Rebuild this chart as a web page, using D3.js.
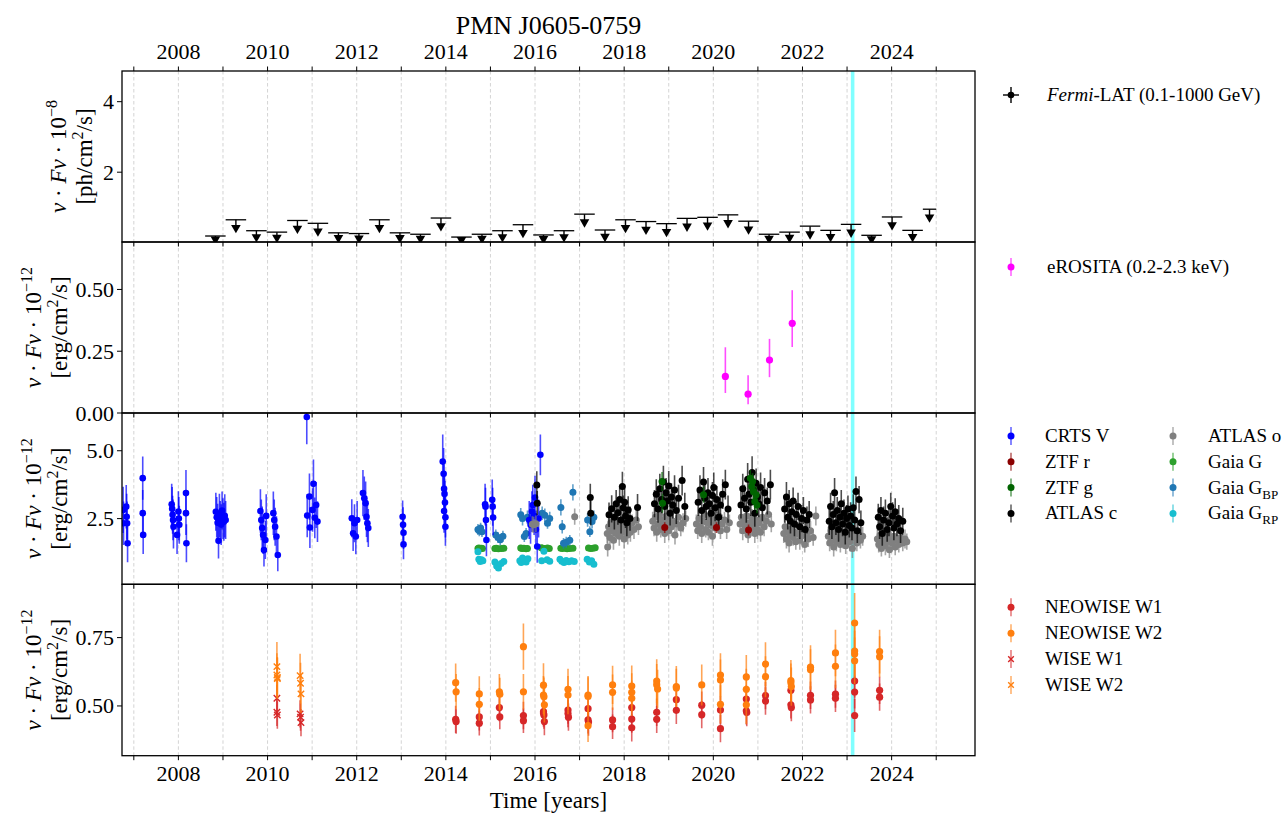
<!DOCTYPE html>
<html><head><meta charset="utf-8">
<script src="https://cdn.jsdelivr.net/npm/d3@7"></script>
<style>
body{margin:0;background:#fff}
svg{display:block}
text{font-family:"Liberation Serif","Times New Roman",serif;fill:#000}
</style>
</head><body><svg id="chart" width="1285" height="815"></svg>
<script>
// ---------------- DATA ----------------
const titleText = "PMN J0605-0759";
const xTickYears = [2007,2008,2009,2010,2011,2012,2013,2014,2015,2016,2017,2018,2019,2020,2021,2022,2023,2024,2025];
const xLabelYears = [2008,2010,2012,2014,2016,2018,2020,2022,2024];
const highlightEpochs = [2023.125];

const fermiYTicks = [2,4];
const erositaYTicks = [0,0.25,0.5];
const opticalYTicks = [2.5,5.0];
const irYTicks = [0.5,0.75];

// Fermi-LAT upper limits: bin edges (years) and UL values
const fermiBinEdges = [2008.60,2009.06,2009.52,2009.98,2010.44,2010.90,2011.36,2011.82,2012.28,2012.74,2013.20,2013.66,2014.12,2014.58,2015.04,2015.50,2015.96,2016.42,2016.88,2017.34,2017.80,2018.26,2018.72,2019.18,2019.64,2020.10,2020.56,2021.02,2021.48,2021.94,2022.40,2022.86,2023.32,2023.78,2024.24,2024.70,2025.00];
const fermiUL = [0.19,0.65,0.34,0.30,0.63,0.55,0.28,0.26,0.65,0.28,0.24,0.70,0.16,0.24,0.34,0.51,0.22,0.34,0.81,0.36,0.65,0.60,0.54,0.69,0.72,0.79,0.61,0.24,0.30,0.47,0.35,0.52,0.21,0.73,0.35,0.95];

// eROSITA
const erositaTime = [2020.27,2020.78,2021.26,2021.77];
const erositaFlux = [0.148,0.076,0.214,0.363];
const erositaErrLo = [0.067,0.041,0.069,0.096];
const erositaErrHi = [0.118,0.077,0.086,0.134];

// Optical [time, flux, err]
const crtsV = [
[2006.76,2.82,0.85],[2006.77,2.33,0.8],[2006.83,2.94,0.8],[2006.84,2.57,0.85],[2006.85,2.33,0.8],[2006.86,1.59,0.7],
[2007.20,3.99,0.8],[2007.20,2.70,0.85],[2007.21,1.90,0.7],
[2007.85,3.03,0.75],[2007.86,2.86,0.8],[2007.87,2.64,0.7],[2007.88,2.45,0.75],[2007.89,2.20,0.8],[2007.97,1.90,0.7],[2008.00,2.76,0.75],[2008.01,2.50,0.8],[2008.02,2.27,0.7],[2008.17,3.44,0.85],[2008.17,2.70,0.8],[2008.18,1.59,0.7],
[2008.84,2.75,0.7],[2008.86,2.55,0.75],[2008.88,2.35,0.7],[2008.90,1.68,0.65],[2008.92,2.62,0.8],[2008.94,2.45,0.7],[2008.96,2.28,0.75],[2008.98,2.80,0.7],[2009.00,2.50,0.75],[2009.02,2.38,0.7],[2009.04,2.60,0.8],[2009.06,2.45,0.7],
[2009.84,2.78,0.8],[2009.86,2.45,0.75],[2009.88,2.15,0.8],[2009.90,1.90,0.7],[2009.92,1.34,0.6],[2009.95,1.71,0.7],[2009.97,2.60,0.8],[2010.13,2.70,0.8],[2010.15,2.45,0.75],[2010.17,2.20,0.7],[2010.20,1.84,0.75],[2010.23,1.16,0.6],
[2010.88,6.24,1.0],[2010.89,2.61,0.8],[2010.94,3.31,0.85],[2010.95,2.17,0.75],[2011.01,2.82,0.8],[2011.03,3.78,0.9],[2011.06,2.53,0.75],[2011.09,3.00,0.85],[2011.12,2.39,0.75],
[2011.89,2.51,0.7],[2011.92,1.96,0.65],[2011.95,2.33,0.7],[2011.98,1.84,0.65],[2012.01,2.45,0.7],[2012.14,3.44,0.85],[2012.17,3.25,0.8],[2012.20,3.07,0.8],[2012.22,2.57,0.75],[2012.24,2.33,0.7],[2012.26,2.15,0.7],
[2013.03,2.57,0.6],[2013.04,2.27,0.65],[2013.05,1.98,0.6],[2013.05,1.55,0.55],
[2013.93,4.60,1.0],[2013.95,4.15,0.95],[2013.96,3.60,0.9],[2013.97,3.41,0.85],[2013.98,3.09,0.8],[2013.96,2.78,0.8],[2013.99,2.55,0.75],[2013.99,2.20,0.7],
[2014.88,3.03,0.75],[2014.89,2.94,0.7],[2014.90,2.45,0.65],[2014.91,1.71,0.6],[2015.04,3.19,0.75],[2015.05,2.94,0.7],[2015.06,2.54,0.65],
[2015.87,2.45,0.7],[2015.90,2.27,0.7],[2015.93,2.76,0.75],[2015.95,3.00,0.75],[2015.98,2.60,0.7],[2016.00,3.28,0.8],[2016.02,2.10,0.7],[2016.05,1.47,0.6],[2016.08,2.50,0.7],[2016.12,4.85,0.75]
];
const ztfR = [[2018.91,2.17,0.2],[2020.07,2.17,0.2],[2020.79,2.08,0.2]];
const ztfG = [[2018.85,3.87,0.35],[2018.86,3.07,0.35],[2019.78,3.38,0.3],[2020.83,3.99,0.3],[2020.86,3.68,0.3],[2020.88,3.87,0.3],[2020.90,3.50,0.3],[2020.93,3.13,0.3],[2020.96,3.38,0.3],[2020.98,3.00,0.3]];
const atlasC = [
[2016.04,3.74,0.5],[2016.05,3.07,0.45],[2017.24,3.28,0.5],[2017.25,2.70,0.45],
[2017.66,2.64,0.45],[2017.72,2.86,0.5],[2017.78,2.55,0.45],[2017.82,3.05,0.5],[2017.86,2.72,0.45],[2017.90,3.20,0.5],[2017.93,2.45,0.5],[2017.96,3.68,0.55],[2017.98,2.90,0.45],[2018.01,3.10,0.5],[2018.03,2.60,0.45],[2018.06,2.35,0.5],[2018.09,2.82,0.5],[2018.13,2.50,0.45],[2018.30,2.91,0.5],
[2018.68,3.05,0.5],[2018.72,3.40,0.55],[2018.76,2.85,0.5],[2018.80,3.60,0.55],[2018.84,3.20,0.5],[2018.88,3.85,0.6],[2018.91,2.95,0.5],[2018.94,3.45,0.55],[2018.97,3.15,0.5],[2019.00,3.70,0.55],[2019.03,2.70,0.45],[2019.06,3.30,0.5],[2019.09,3.00,0.5],[2019.13,3.55,0.55],[2019.17,2.80,0.5],[2019.22,3.25,0.5],[2019.30,3.90,0.55],[2019.36,2.95,0.5],
[2019.66,3.10,0.5],[2019.70,3.55,0.55],[2019.74,2.80,0.5],[2019.78,3.85,0.55],[2019.81,3.25,0.5],[2019.84,2.95,0.5],[2019.88,3.45,0.55],[2019.91,3.05,0.5],[2019.95,2.70,0.45],[2019.98,3.35,0.5],[2020.01,3.65,0.55],[2020.04,2.90,0.5],[2020.08,3.20,0.5],[2020.12,2.55,0.45],[2020.16,3.00,0.5],[2020.21,3.40,0.55],[2020.27,3.75,0.55],[2020.33,2.85,0.5],
[2020.62,3.00,0.5],[2020.66,3.60,0.55],[2020.70,3.25,0.5],[2020.74,2.85,0.5],[2020.77,3.95,0.6],[2020.80,3.40,0.55],[2020.84,3.10,0.5],[2020.87,4.20,0.6],[2020.90,3.55,0.55],[2020.93,2.70,0.5],[2020.96,3.80,0.55],[2020.99,3.30,0.5],[2021.02,3.05,0.5],[2021.06,3.65,0.55],[2021.10,2.90,0.5],[2021.15,3.45,0.55],[2021.21,3.15,0.5],[2021.28,3.75,0.55],
[2021.60,2.85,0.5],[2021.64,3.30,0.55],[2021.67,2.55,0.45],[2021.70,3.05,0.5],[2021.73,2.40,0.45],[2021.76,2.75,0.5],[2021.79,3.15,0.5],[2021.82,2.30,0.45],[2021.86,2.65,0.5],[2021.90,2.95,0.5],[2021.94,2.20,0.45],[2021.98,2.50,0.5],[2022.02,2.80,0.5],[2022.06,2.10,0.45],[2022.10,2.45,0.5],[2022.15,2.65,0.5],
[2022.60,2.40,0.5],[2022.63,2.95,0.5],[2022.66,2.20,0.45],[2022.69,2.65,0.5],[2022.72,3.45,0.55],[2022.75,2.35,0.45],[2022.78,2.80,0.5],[2022.81,2.10,0.45],[2022.84,2.55,0.5],[2022.87,3.05,0.5],[2022.90,2.30,0.45],[2022.93,2.70,0.5],[2022.96,2.00,0.45],[2022.99,2.50,0.5],[2023.02,2.85,0.5],[2023.05,2.25,0.45],[2023.08,2.60,0.5],[2023.11,2.15,0.45],[2023.14,2.90,0.5],[2023.17,2.45,0.5],[2023.20,3.50,0.55],[2023.23,2.05,0.45],[2023.27,3.20,0.5],[2023.31,2.35,0.45],
[2023.70,2.55,0.5],[2023.73,2.20,0.45],[2023.76,2.80,0.5],[2023.79,1.95,0.45],[2023.82,2.45,0.5],[2023.86,2.70,0.5],[2023.90,2.10,0.45],[2023.94,2.35,0.5],[2023.98,2.95,0.5],[2024.02,2.60,0.5],[2024.05,2.15,0.45],[2024.08,2.75,0.5],[2024.12,2.30,0.45],[2024.16,2.50,0.5],[2024.20,2.05,0.45],[2024.25,2.40,0.5]
];
const atlasO = [
[2015.94,2.29,0.3],[2015.97,2.27,0.3],[2016.02,2.31,0.3],[2016.89,2.57,0.3],
[2017.62,1.95,0.35],[2017.63,1.45,0.35],[2017.65,2.20,0.35],[2017.68,1.80,0.3],[2017.70,2.35,0.35],[2017.73,2.05,0.3],[2017.76,1.70,0.35],[2017.79,2.25,0.3],[2017.81,1.95,0.35],[2017.84,2.45,0.35],[2017.87,2.10,0.3],[2017.89,1.85,0.35],[2017.92,2.30,0.3],[2017.95,2.00,0.35],[2017.97,2.15,0.3],[2018.00,1.75,0.35],[2018.02,2.40,0.35],[2018.05,2.05,0.3],[2018.08,1.90,0.35],[2018.10,2.25,0.3],[2018.14,2.00,0.35],[2018.18,2.35,0.3],[2018.22,2.10,0.35],[2018.27,2.45,0.35],[2018.32,2.20,0.3],
[2018.64,2.40,0.35],[2018.67,2.15,0.3],[2018.70,2.55,0.35],[2018.73,2.00,0.35],[2018.76,2.30,0.3],[2018.79,2.65,0.35],[2018.82,2.10,0.3],[2018.85,2.45,0.35],[2018.88,2.25,0.3],[2018.91,1.95,0.35],[2018.94,2.60,0.35],[2018.97,2.35,0.3],[2019.00,2.05,0.35],[2019.03,2.50,0.3],[2019.06,2.20,0.35],[2019.10,2.40,0.3],[2019.14,1.90,0.35],[2019.18,2.30,0.3],[2019.22,2.55,0.35],[2019.27,2.15,0.3],[2019.32,2.35,0.35],[2019.38,2.50,0.3],
[2019.62,2.30,0.35],[2019.65,2.05,0.3],[2019.68,2.50,0.35],[2019.71,2.20,0.3],[2019.74,1.95,0.35],[2019.77,2.40,0.3],[2019.80,2.65,0.35],[2019.83,2.10,0.3],[2019.86,2.35,0.35],[2019.89,2.00,0.3],[2019.92,2.55,0.35],[2019.95,2.25,0.3],[2019.98,1.85,0.35],[2020.01,2.45,0.3],[2020.04,2.15,0.35],[2020.08,2.35,0.3],[2020.12,2.60,0.35],[2020.16,2.05,0.3],[2020.20,2.30,0.35],[2020.25,2.45,0.3],[2020.30,2.10,0.35],[2020.36,2.35,0.3],
[2020.60,2.30,0.35],[2020.63,2.55,0.3],[2020.66,2.05,0.35],[2020.69,2.40,0.3],[2020.72,2.20,0.35],[2020.75,2.60,0.35],[2020.78,1.90,0.3],[2020.81,2.35,0.35],[2020.84,2.15,0.3],[2020.87,2.50,0.35],[2020.90,2.25,0.3],[2020.93,1.95,0.35],[2020.96,2.45,0.3],[2020.99,2.10,0.35],[2021.02,2.35,0.3],[2021.06,2.00,0.35],[2021.10,2.55,0.3],[2021.14,2.20,0.35],[2021.19,2.40,0.3],[2021.24,2.65,0.35],[2021.30,2.30,0.3],
[2021.58,1.95,0.35],[2021.61,2.20,0.3],[2021.64,1.75,0.35],[2021.67,2.05,0.3],[2021.70,1.60,0.35],[2021.73,1.90,0.3],[2021.76,2.15,0.35],[2021.79,1.80,0.3],[2021.82,2.00,0.35],[2021.85,1.65,0.3],[2021.88,1.95,0.35],[2021.91,2.25,0.3],[2021.94,1.70,0.35],[2021.97,1.85,0.3],[2022.01,2.10,0.35],[2022.05,1.55,0.3],[2022.09,1.90,0.35],[2022.13,1.75,0.3],[2022.18,2.05,0.35],[2022.24,1.80,0.3],[2022.30,2.60,0.35],
[2022.58,1.85,0.35],[2022.61,1.60,0.3],[2022.64,2.05,0.35],[2022.67,1.75,0.3],[2022.70,1.45,0.35],[2022.73,1.95,0.3],[2022.76,1.65,0.35],[2022.79,2.10,0.3],[2022.82,1.80,0.35],[2022.85,1.55,0.3],[2022.88,2.00,0.35],[2022.91,1.70,0.3],[2022.94,1.90,0.35],[2022.97,1.50,0.3],[2023.00,1.85,0.35],[2023.03,2.15,0.3],[2023.06,1.65,0.35],[2023.09,1.95,0.3],[2023.12,1.40,0.35],[2023.15,1.80,0.3],[2023.18,2.00,0.35],[2023.22,1.60,0.3],[2023.26,1.90,0.35],[2023.30,1.70,0.3],[2023.35,1.85,0.35],
[2023.68,1.75,0.35],[2023.71,1.55,0.3],[2023.74,1.90,0.35],[2023.77,1.40,0.3],[2023.80,1.70,0.35],[2023.83,1.85,0.3],[2023.86,1.50,0.35],[2023.89,1.65,0.3],[2023.92,1.95,0.35],[2023.95,1.35,0.3],[2023.98,1.75,0.35],[2024.01,1.60,0.3],[2024.05,1.85,0.35],[2024.08,1.45,0.3],[2024.12,1.70,0.35],[2024.16,1.55,0.3],[2024.20,1.80,0.35],[2024.25,1.60,0.3],[2024.30,1.75,0.35],[2024.34,1.65,0.3]
];
const gaiaG = [
[2014.72,1.40,0.05],[2014.74,1.42,0.05],[2014.77,1.39,0.05],[2014.80,1.41,0.05],[2014.82,1.40,0.05],
[2015.10,1.40,0.05],[2015.13,1.41,0.05],[2015.18,1.39,0.05],[2015.25,1.40,0.05],[2015.30,1.41,0.05],
[2015.68,1.42,0.05],[2015.71,1.40,0.05],[2015.75,1.41,0.05],[2015.80,1.39,0.05],[2015.83,1.40,0.05],
[2016.14,1.43,0.05],[2016.17,1.41,0.05],[2016.22,1.40,0.05],[2016.28,1.42,0.05],[2016.32,1.40,0.05],
[2016.58,1.41,0.05],[2016.62,1.40,0.05],[2016.68,1.42,0.05],[2016.72,1.39,0.05],[2016.78,1.40,0.05],[2016.85,1.41,0.05],
[2017.20,1.42,0.05],[2017.25,1.40,0.05],[2017.30,1.41,0.05],[2017.35,1.43,0.05]
];
const gaiaBP = [
[2014.72,2.10,0.2],[2014.75,2.05,0.2],[2014.78,2.15,0.2],[2014.81,2.02,0.2],
[2015.12,1.90,0.2],[2015.17,1.80,0.2],[2015.22,1.72,0.2],[2015.28,1.85,0.2],
[2015.68,2.64,0.25],[2015.72,2.50,0.25],[2015.76,1.84,0.2],[2015.80,1.95,0.2],[2015.83,2.55,0.25],
[2016.16,2.70,0.25],[2016.22,2.62,0.25],[2016.28,2.33,0.2],[2016.33,2.50,0.25],
[2016.58,2.91,0.3],[2016.61,2.20,0.25],[2016.64,1.59,0.2],[2016.70,1.63,0.2],[2016.78,1.70,0.2],[2016.85,3.47,0.3],
[2017.18,2.45,0.25],[2017.23,2.02,0.2],[2017.28,2.39,0.25],[2017.32,2.55,0.25]
];
const gaiaRP = [
[2014.72,1.28,0.06],[2014.74,1.00,0.06],[2014.77,0.92,0.06],[2014.80,0.98,0.06],[2014.83,0.95,0.06],
[2015.10,0.90,0.06],[2015.14,0.75,0.06],[2015.18,0.68,0.06],[2015.24,0.85,0.06],[2015.30,0.92,0.06],
[2015.66,0.95,0.06],[2015.69,0.88,0.06],[2015.72,1.05,0.06],[2015.76,0.98,0.06],[2015.80,0.90,0.06],[2015.84,1.02,0.06],
[2016.15,0.95,0.06],[2016.20,1.30,0.06],[2016.27,0.98,0.06],[2016.33,0.93,0.06],
[2016.56,1.00,0.06],[2016.60,0.93,0.06],[2016.65,0.88,0.06],[2016.70,0.96,0.06],[2016.76,0.91,0.06],[2016.82,0.95,0.06],[2016.88,0.92,0.06],
[2017.17,1.00,0.06],[2017.22,0.90,0.06],[2017.27,0.95,0.06],[2017.32,0.82,0.06]
];

// Infrared [time, flux, err]
const neowiseW1 = [
[2014.22,0.451,0.05],[2014.23,0.443,0.045],[2014.75,0.460,0.05],[2014.75,0.437,0.045],[2015.20,0.494,0.05],[2015.21,0.460,0.045],
[2015.74,0.465,0.05],[2015.74,0.446,0.045],[2016.19,0.479,0.05],[2016.20,0.467,0.05],[2016.21,0.443,0.05],[2016.19,0.474,0.05],
[2016.74,0.485,0.05],[2016.74,0.472,0.05],[2016.75,0.459,0.05],[2017.19,0.490,0.05],[2017.19,0.449,0.05],[2017.20,0.441,0.05],
[2017.74,0.449,0.045],[2017.74,0.424,0.045],[2018.17,0.494,0.05],[2018.17,0.452,0.05],[2018.17,0.420,0.05],
[2018.73,0.477,0.05],[2018.73,0.451,0.05],[2019.17,0.523,0.05],[2019.17,0.484,0.05],[2019.74,0.503,0.05],[2019.74,0.468,0.05],
[2020.16,0.485,0.05],[2020.16,0.417,0.05],[2020.74,0.525,0.05],[2020.74,0.482,0.05],[2020.75,0.476,0.05],
[2021.17,0.538,0.05],[2021.17,0.518,0.05],[2021.74,0.557,0.05],[2021.74,0.504,0.05],[2021.75,0.494,0.05],
[2022.18,0.539,0.05],[2022.18,0.522,0.05],[2022.74,0.543,0.05],[2022.74,0.528,0.05],
[2023.17,0.591,0.06],[2023.17,0.551,0.06],[2023.17,0.465,0.06],[2023.73,0.557,0.05],[2023.73,0.532,0.05]
];
const neowiseW2 = [
[2014.22,0.585,0.07],[2014.23,0.552,0.065],[2014.75,0.544,0.065],[2014.75,0.506,0.06],[2015.20,0.552,0.065],[2015.21,0.543,0.06],
[2015.74,0.717,0.085],[2015.74,0.552,0.065],[2016.19,0.576,0.08],[2016.19,0.540,0.07],[2016.20,0.534,0.07],[2016.21,0.504,0.065],
[2016.74,0.561,0.075],[2016.74,0.540,0.07],[2017.19,0.540,0.07],[2017.19,0.535,0.07],[2017.19,0.428,0.06],
[2017.74,0.577,0.07],[2017.74,0.550,0.065],[2018.17,0.573,0.075],[2018.17,0.550,0.07],[2018.17,0.528,0.065],
[2018.73,0.591,0.08],[2018.73,0.578,0.075],[2018.75,0.562,0.07],[2019.17,0.571,0.075],[2019.17,0.566,0.07],
[2019.74,0.577,0.075],[2020.16,0.613,0.08],[2020.16,0.595,0.075],[2020.16,0.506,0.07],
[2020.74,0.606,0.08],[2020.74,0.561,0.075],[2020.74,0.504,0.07],[2021.17,0.653,0.08],[2021.17,0.607,0.075],
[2021.74,0.593,0.075],[2021.74,0.585,0.07],[2021.75,0.571,0.07],[2022.18,0.642,0.08],[2022.18,0.632,0.075],
[2022.74,0.694,0.085],[2022.74,0.645,0.08],[2023.17,0.803,0.11],[2023.17,0.701,0.09],[2023.17,0.690,0.085],[2023.17,0.665,0.085],
[2023.73,0.699,0.08],[2023.73,0.680,0.075]
];
const wiseW1 = [[2010.21,0.528,0.05],[2010.21,0.477,0.05],[2010.22,0.467,0.05],[2010.73,0.471,0.05],[2010.74,0.459,0.05],[2010.75,0.439,0.05]];
const wiseW2 = [[2010.21,0.644,0.09],[2010.21,0.613,0.08],[2010.22,0.604,0.075],[2010.22,0.600,0.075],[2010.73,0.611,0.08],[2010.74,0.583,0.075],[2010.75,0.544,0.07]];

// ---------------- DRAWING ----------------
const svg = d3.select("#chart");
const x = d3.scaleLinear().domain([2006.735, 2025.87]).range([122, 975]);
const xL = 122, xR = 975;

const panels = [
  {top:71, bottom:242, domain:[0.02,4.87], ticks:fermiYTicks, fmt:d=>String(d), exp:"−8", unit:"ph", lx:66},
  {top:242, bottom:413, domain:[0,0.692], ticks:erositaYTicks, fmt:d3.format(".2f"), exp:"−12", unit:"erg", lx:41},
  {top:413, bottom:584.3, domain:[0.08,6.39], ticks:opticalYTicks, fmt:d3.format(".1f"), exp:"−12", unit:"erg", lx:41},
  {top:584.3, bottom:755.7, domain:[0.318,0.945], ticks:irYTicks, fmt:d3.format(".2f"), exp:"−12", unit:"erg", lx:41}
];
panels.forEach((p,i)=>{ p.y = d3.scaleLinear().domain(p.domain).range([p.bottom,p.top]); });

const defs = svg.append("defs");
panels.forEach((p,i)=>{
  defs.append("clipPath").attr("id","clip"+i).append("rect")
    .attr("x",xL).attr("y",p.top).attr("width",xR-xL).attr("height",p.bottom-p.top);
});

// grid + highlight
panels.forEach((p,i)=>{
  const g = svg.append("g").attr("clip-path",`url(#clip${i})`);
  g.selectAll("line.grid").data(xTickYears).join("line")
    .attr("x1",d=>x(d)).attr("x2",d=>x(d)).attr("y1",p.top).attr("y2",p.bottom)
    .attr("stroke","#cfcfcf").attr("stroke-width",0.9).attr("stroke-dasharray","3.5,2.5");
  g.selectAll("rect.hl").data(highlightEpochs).join("rect")
    .attr("x",d=>x(d-0.04)).attr("width",d=>x(d+0.04)-x(d-0.04))
    .attr("y",p.top).attr("height",p.bottom-p.top).attr("fill","#80ffff");
  p.g = g;
});

function errPoints(p, data, color, opt={}){
  const r = opt.r || 3.5, op = opt.eop==null?0.7:opt.eop;
  const g = p.g.append("g");
  g.selectAll("line").data(data).join("line")
    .attr("x1",d=>x(d[0])).attr("x2",d=>x(d[0]))
    .attr("y1",d=>p.y(d[1]-d[2])).attr("y2",d=>p.y(d[1]+d[2]))
    .attr("stroke",color).attr("stroke-width",opt.ew||1.6).attr("stroke-opacity",op);
  if(opt.marker==="x"){
    const s=3.2;
    g.selectAll("path").data(data).join("path")
      .attr("d",d=>{const cx=x(d[0]),cy=p.y(d[1]);return `M${cx-s},${cy-s}L${cx+s},${cy+s}M${cx-s},${cy+s}L${cx+s},${cy-s}`;})
      .attr("stroke",color).attr("stroke-width",1.4).attr("fill","none");
  } else {
    g.selectAll("circle").data(data).join("circle")
      .attr("cx",d=>x(d[0])).attr("cy",d=>p.y(d[1])).attr("r",r).attr("fill",color);
  }
}

// Panel 1: Fermi ULs
{
  const p = panels[0];
  const bins = fermiUL.map((v,i)=>({lo:fermiBinEdges[i], hi:fermiBinEdges[i+1], v}));
  const g = p.g.append("g");
  const tri = d3.symbol().type(d3.symbolTriangle).size(40);
  bins.forEach(b=>{
    const cx = x((b.lo+b.hi)/2), cy = p.y(b.v);
    const off = Math.min(8, 0.55*(p.bottom-cy));
    g.append("line").attr("x1",x(b.lo)).attr("x2",x(b.hi)).attr("y1",cy).attr("y2",cy)
      .attr("stroke","#000").attr("stroke-width",1.3);
    g.append("line").attr("x1",cx).attr("x2",cx).attr("y1",cy).attr("y2",cy+off)
      .attr("stroke","#000").attr("stroke-width",1.4);
    g.append("path").attr("d",tri).attr("transform",`translate(${cx},${cy+off}) rotate(180)`).attr("fill","#000");
  });
}

// Panel 2: eROSITA
{
  const p = panels[1];
  const data = erositaTime.map((t,i)=>({t, v:erositaFlux[i], lo:erositaErrLo[i], hi:erositaErrHi[i]}));
  const g = p.g.append("g");
  g.selectAll("line").data(data).join("line")
    .attr("x1",d=>x(d.t)).attr("x2",d=>x(d.t))
    .attr("y1",d=>p.y(d.v-d.lo)).attr("y2",d=>p.y(d.v+d.hi))
    .attr("stroke","#ff00ff").attr("stroke-width",1.6).attr("stroke-opacity",0.7);
  g.selectAll("circle").data(data).join("circle")
    .attr("cx",d=>x(d.t)).attr("cy",d=>p.y(d.v)).attr("r",3.6).attr("fill","#ff00ff");
}

// Panel 3: optical
const optSeries = [
  {name:"Gaia G", data:gaiaG, color:"#2ca02c"},
  {name:"Gaia GBP", data:gaiaBP, color:"#1f77b4"},
  {name:"Gaia GRP", data:gaiaRP, color:"#17becf"},
  {name:"CRTS V", data:crtsV, color:"#0000ff", r:3.3},
  {name:"ATLAS o", data:atlasO, color:"#808080"},
  {name:"ATLAS c", data:atlasC, color:"#000000"},
  {name:"ZTF r", data:ztfR, color:"#8b0000"},
  {name:"ZTF g", data:ztfG, color:"#006400"}
];
optSeries.forEach(s=>errPoints(panels[2], s.data, s.color, {r:s.r||3.5}));

// Panel 4: IR
errPoints(panels[3], wiseW1, "#d62728", {marker:"x"});
errPoints(panels[3], wiseW2, "#ff7f0e", {marker:"x"});
errPoints(panels[3], neowiseW1, "#d62728", {r:3.6});
errPoints(panels[3], neowiseW2, "#ff7f0e", {r:3.6});

// frames, ticks, tick labels
panels.forEach((p,i)=>{
  svg.append("rect").attr("x",xL).attr("y",p.top).attr("width",xR-xL).attr("height",p.bottom-p.top)
    .attr("fill","none").attr("stroke","#000").attr("stroke-width",1.3);
  svg.append("g").selectAll("line").data(xTickYears).join("line")
    .attr("x1",d=>x(d)).attr("x2",d=>x(d)).attr("y1",p.bottom).attr("y2",p.bottom+4.5)
    .attr("stroke","#000").attr("stroke-width",1);
  const gy = svg.append("g");
  gy.selectAll("line").data(p.ticks).join("line")
    .attr("x1",xL-5).attr("x2",xL).attr("y1",d=>p.y(d)).attr("y2",d=>p.y(d))
    .attr("stroke","#000").attr("stroke-width",1);
  gy.selectAll("text").data(p.ticks).join("text")
    .attr("x",xL-8).attr("y",d=>p.y(d)+7.5).attr("text-anchor","end")
    .attr("font-size",22).text(d=>p.fmt(d));
  const cy = (p.top+p.bottom)/2;
  const lab = svg.append("g").attr("transform",`translate(${p.lx},${cy}) rotate(-90)`);
  const t1 = lab.append("text").attr("x",0).attr("y",0).attr("text-anchor","middle").attr("font-size",23);
  t1.append("tspan").attr("font-style","italic").text("ν");
  t1.append("tspan").text(" · ");
  t1.append("tspan").attr("font-style","italic").text("Fν");
  t1.append("tspan").text(" · 10");
  t1.append("tspan").attr("dy",-9).attr("font-size",16).text(p.exp);
  const t2 = lab.append("text").attr("x",0).attr("y",26).attr("text-anchor","middle").attr("font-size",23);
  t2.append("tspan").text(`[${p.unit}/cm`);
  t2.append("tspan").attr("dy",-9).attr("font-size",16).text("2");
  t2.append("tspan").attr("dy",9).text("/s]");
});

// top axis
svg.append("g").selectAll("line").data(xTickYears).join("line")
  .attr("x1",d=>x(d)).attr("x2",d=>x(d)).attr("y1",panels[0].top-4.5).attr("y2",panels[0].top)
  .attr("stroke","#000").attr("stroke-width",1);
svg.append("g").selectAll("text").data(xLabelYears).join("text")
  .attr("x",d=>x(d)).attr("y",59).attr("text-anchor","middle").attr("font-size",22).text(d=>d);
svg.append("g").selectAll("text").data(xLabelYears).join("text")
  .attr("x",d=>x(d)).attr("y",781).attr("text-anchor","middle").attr("font-size",22).text(d=>d);
svg.append("text").attr("x",(xL+xR)/2).attr("y",808).attr("text-anchor","middle").attr("font-size",23).text("Time [years]");
svg.append("text").attr("x",(xL+xR)/2).attr("y",34).attr("text-anchor","middle").attr("font-size",26).text(titleText);

// legends
function legMarker(g, cx, cy, color, kind){
  if(kind==="fermi"){
    g.append("line").attr("x1",cx-8).attr("x2",cx+8).attr("y1",cy).attr("y2",cy).attr("stroke","#000").attr("stroke-width",1.4);
    g.append("line").attr("x1",cx).attr("x2",cx).attr("y1",cy-8).attr("y2",cy+8).attr("stroke","#000").attr("stroke-width",1.4);
    g.append("circle").attr("cx",cx).attr("cy",cy).attr("r",3.3).attr("fill","#000");
    return;
  }
  g.append("line").attr("x1",cx).attr("x2",cx).attr("y1",cy-9).attr("y2",cy+9)
    .attr("stroke",color).attr("stroke-width",1.6).attr("stroke-opacity",0.6);
  if(kind==="x"){
    const s=2.8;
    g.append("path").attr("d",`M${cx-s},${cy-s}L${cx+s},${cy+s}M${cx-s},${cy+s}L${cx+s},${cy-s}`)
      .attr("stroke",color).attr("stroke-width",1.4);
  } else {
    g.append("circle").attr("cx",cx).attr("cy",cy).attr("r",3.5).attr("fill",color);
  }
}
function legText(g, tx, ty, parts){
  const t = g.append("text").attr("x",tx).attr("y",ty+6).attr("font-size",19);
  parts.forEach(pt=>{
    const s = t.append("tspan").text(pt.t);
    if(pt.it) s.attr("font-style","italic");
    if(pt.sub){ s.attr("font-size",13).attr("dy",5); }
  });
}
const lg = svg.append("g");
legMarker(lg,1011,95,"#000","fermi");
legText(lg,1047,95,[{t:"Fermi",it:true},{t:"-LAT (0.1-1000 GeV)"}]);
legMarker(lg,1011,267,"#ff00ff","o");
legText(lg,1047,267,[{t:"eROSITA (0.2-2.3 keV)"}]);

const optLegend = [
  {col:0,row:0,color:"#0000ff",parts:[{t:"CRTS V"}]},
  {col:0,row:1,color:"#8b0000",parts:[{t:"ZTF r"}]},
  {col:0,row:2,color:"#006400",parts:[{t:"ZTF g"}]},
  {col:0,row:3,color:"#000000",parts:[{t:"ATLAS c"}]},
  {col:1,row:0,color:"#808080",parts:[{t:"ATLAS o"}]},
  {col:1,row:1,color:"#2ca02c",parts:[{t:"Gaia G"}]},
  {col:1,row:2,color:"#1f77b4",parts:[{t:"Gaia G"},{t:"BP",sub:true}]},
  {col:1,row:3,color:"#17becf",parts:[{t:"Gaia G"},{t:"RP",sub:true}]}
];
optLegend.forEach(L=>{
  const mx = L.col===0?1011:1173, tx = L.col===0?1045:1208, cy = 436+L.row*25.8;
  legMarker(lg,mx,cy,L.color,"o");
  legText(lg,tx,cy,L.parts);
});
const irLegend = [
  {color:"#d62728",kind:"o",t:"NEOWISE W1"},
  {color:"#ff7f0e",kind:"o",t:"NEOWISE W2"},
  {color:"#d62728",kind:"x",t:"WISE W1"},
  {color:"#ff7f0e",kind:"x",t:"WISE W2"}
];
irLegend.forEach((L,i)=>{
  const cy = 607.3+i*25.9;
  legMarker(lg,1011,cy,L.color,L.kind);
  legText(lg,1045,cy,[{t:L.t}]);
});
</script></body></html>
